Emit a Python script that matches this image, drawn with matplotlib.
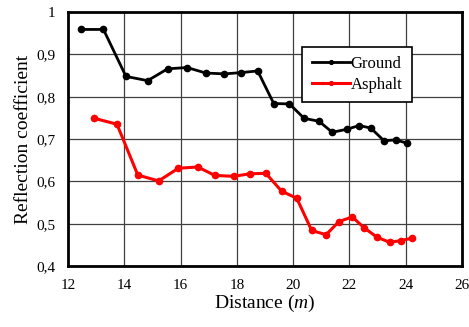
import matplotlib
matplotlib.use("Agg")
import matplotlib.pyplot as plt
from matplotlib.ticker import FuncFormatter

plt.rcParams['font.family'] = ['Liberation Serif', 'DejaVu Serif']
plt.rcParams['mathtext.fontset'] = 'custom'
plt.rcParams['mathtext.it'] = 'Liberation Serif:italic'
plt.rcParams['mathtext.rm'] = 'Liberation Serif'

# data
ground_x = [12.46, 13.26, 14.06, 14.83, 15.54, 16.23, 16.90, 17.56, 18.15, 18.74,
            19.31, 19.87, 20.39, 20.92, 21.39, 21.90, 22.35, 22.76, 23.23, 23.65, 24.06]
ground_y = [0.959, 0.959, 0.848, 0.838, 0.866, 0.869, 0.856, 0.854, 0.857, 0.861,
            0.784, 0.783, 0.749, 0.742, 0.716, 0.723, 0.732, 0.726, 0.696, 0.698, 0.690]

asphalt_x = [12.94, 13.74, 14.48, 15.22, 15.92, 16.61, 17.22, 17.89, 18.47, 19.03,
             19.59, 20.13, 20.66, 21.17, 21.63, 22.10, 22.53, 22.98, 23.43, 23.83, 24.24]
asphalt_y = [0.749, 0.735, 0.615, 0.601, 0.631, 0.634, 0.614, 0.612, 0.618, 0.619,
             0.577, 0.560, 0.484, 0.474, 0.505, 0.516, 0.490, 0.468, 0.456, 0.460, 0.466]

x_ticks = [12, 14, 16, 18, 20, 22, 24, 26]
y_ticks = [0.4, 0.5, 0.6, 0.7, 0.8, 0.9, 1.0]

fig = plt.figure(figsize=(4.69, 3.27), dpi=100)
ax = fig.add_axes([0.145, 0.1865, 0.840, 0.7765])

ax.plot(ground_x, ground_y, color='black', lw=2, marker='o', ms=4.5, label='Ground', zorder=3)
ax.plot(asphalt_x, asphalt_y, color='red', lw=2.2, marker='o', ms=4.5, label='Asphalt', zorder=3)

ax.set_xlim(12, 26)
ax.set_ylim(0.4, 1.0)
ax.set_xticks(x_ticks)
ax.set_yticks(y_ticks)

def comma(v, pos):
    s = ('%.1f' % v).replace('.', ',')
    return '1' if abs(v - 1) < 1e-9 else s

ax.yaxis.set_major_formatter(FuncFormatter(comma))
ax.tick_params(length=0, labelsize=11, pad=9)
ax.grid(True, color='#404040', lw=0.9)
ax.set_axisbelow(True)
for sp in ax.spines.values():
    sp.set_linewidth(2)

ax.set_xlabel('Distance ($m$)', fontsize=14, labelpad=1)
ax.set_ylabel('Reflection coefficient', fontsize=14, labelpad=3)

leg = ax.legend(loc='upper left', bbox_to_anchor=(0.595, 0.862), borderaxespad=0, fontsize=12,
                frameon=True, fancybox=False, edgecolor='black', framealpha=1,
                markerscale=0.6, handlelength=2.3, handletextpad=0.05, borderpad=0.55,
                labelspacing=0.3)
leg.get_frame().set_linewidth(1.2)

fig.savefig('out.png', dpi=100)
